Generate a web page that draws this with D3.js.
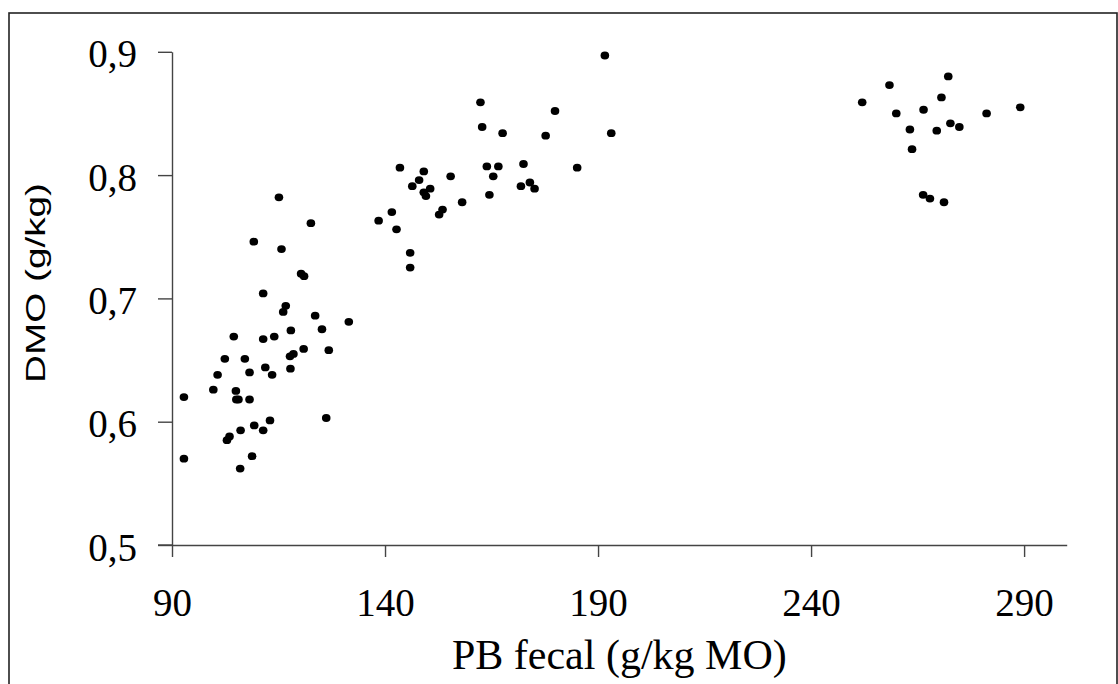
<!DOCTYPE html>
<html>
<head>
<meta charset="utf-8">
<script src="https://cdn.jsdelivr.net/npm/d3@7"></script>
<style>
  body { margin: 0; background: #fff; }
  svg { display: block; }
</style>
</head>
<body>
<div id="chart"></div>
<script>
// PB fecal (g/kg MO) vs DMO (g/kg)
var pbFecal = [
  115.1, 122.6, 109.2, 115.7, 120.3, 121.0, 111.4, 116.7, 116.1, 123.6,
  131.5, 117.9, 125.2, 143.5, 138.5, 141.6, 142.7,
  104.5, 111.4, 114.0, 120.9, 126.8, 117.7, 118.5, 102.4, 107.1, 111.9,
  117.8, 108.2, 113.5, 100.7, 99.7, 105.0, 105.1, 105.6, 108.2, 92.8,
  126.2, 113.0, 109.3, 106.1, 111.4, 103.5, 102.9, 108.8, 92.8, 106.0,
  162.4, 179.9, 162.8, 167.6, 177.7, 193.1, 163.9, 166.6, 172.5, 185.1,
  149.1, 148.0, 155.4, 165.4, 146.4, 150.6, 149.1, 149.6, 171.9, 174.0,
  175.1, 164.5, 158.1, 153.5, 152.7, 145.9, 145.9, 191.6,
  272.2, 258.4, 252.0, 260.0, 266.4, 270.6, 281.2, 289.1, 263.2, 269.5,
  272.7, 274.8, 263.7, 266.3, 267.9, 271.2
];
var dmo = [
  0.782, 0.761, 0.746, 0.740, 0.720, 0.718, 0.704, 0.694, 0.689, 0.686,
  0.681, 0.674, 0.675, 0.806, 0.763, 0.770, 0.756,
  0.669, 0.667, 0.669, 0.659, 0.658, 0.653, 0.655, 0.651, 0.651, 0.644,
  0.643, 0.640, 0.638, 0.638, 0.626, 0.625, 0.618, 0.618, 0.618, 0.620,
  0.603, 0.601, 0.597, 0.593, 0.593, 0.588, 0.585, 0.572, 0.570, 0.562,
  0.859, 0.852, 0.839, 0.834, 0.832, 0.834, 0.807, 0.807, 0.809, 0.806,
  0.803, 0.796, 0.799, 0.799, 0.791, 0.789, 0.786, 0.783, 0.791, 0.794,
  0.789, 0.784, 0.778, 0.772, 0.768, 0.737, 0.725, 0.897,
  0.880, 0.873, 0.859, 0.850, 0.853, 0.863, 0.850, 0.855, 0.837, 0.836,
  0.842, 0.839, 0.821, 0.784, 0.781, 0.778
];
var xTicks = [90, 140, 190, 240, 290];
var yTicks = [0.5, 0.6, 0.7, 0.8, 0.9];

(function() {
  var W = 1118, H = 684;
  var mLeft = 172, mRight = 1066.7, mTop = 51.8, mBottom = 545;

  var svg = d3.select('#chart').append('svg')
      .attr('width', W)
      .attr('height', H);

  svg.append('rect')
      .attr('x', 9).attr('y', 13)
      .attr('width', 1108).attr('height', 700)
      .attr('fill', 'none')
      .attr('stroke', '#222')
      .attr('stroke-width', 1.6);

  var x = d3.scaleLinear().domain([90, 300]).range([mLeft, mRight]);
  var y = d3.scaleLinear().domain([0.5, 0.9]).range([mBottom, mTop]);

  var comma = function(d) { return d3.format('.1f')(d).replace('.', ','); };

  var gx = svg.append('g')
      .attr('transform', 'translate(0,' + mBottom + ')')
      .call(d3.axisBottom(x).tickValues(xTicks).tickSize(12).tickSizeOuter(0));
  gx.selectAll('text')
      .attr('y', 71).attr('dy', 0);

  var gy = svg.append('g')
      .attr('transform', 'translate(' + mLeft + ',0)')
      .call(d3.axisLeft(y).tickValues(yTicks).tickFormat(comma).tickSize(14).tickSizeOuter(0).tickPadding(21));
  gy.selectAll('text').attr('dy', 15);

  svg.selectAll('.domain, .tick line')
      .attr('stroke', '#444')
      .attr('stroke-width', 1.4);
  svg.selectAll('.tick text')
      .attr('fill', '#000')
      .style('font-family', '"Liberation Serif", "Times New Roman", serif')
      .style('font-size', '39px');

  // extend the x axis line left under the 0,5 tick like the original
  svg.append('line')
      .attr('x1', mLeft - 14).attr('x2', mLeft)
      .attr('y1', mBottom).attr('y2', mBottom)
      .attr('stroke', '#444').attr('stroke-width', 1.4);

  var pts = d3.range(pbFecal.length).map(function(i) { return {x: pbFecal[i], y: dmo[i]}; });

  svg.append('g').selectAll('ellipse').data(pts)
    .enter().append('ellipse')
      .attr('cx', function(d) { return x(d.x); })
      .attr('cy', function(d) { return y(d.y); })
      .attr('rx', 4.3)
      .attr('ry', 3.9)
      .attr('fill', '#000');

  svg.append('text')
      .attr('x', (mLeft + mRight) / 2)
      .attr('y', 669)
      .attr('text-anchor', 'middle')
      .style('font-family', '"Liberation Serif", "Times New Roman", serif')
      .style('font-size', '42px')
      .text('PB fecal (g/kg MO)');

  svg.append('text')
      .attr('transform', 'translate(45,283) rotate(-90)')
      .attr('text-anchor', 'middle')
      .attr('textLength', 200)
      .attr('lengthAdjust', 'spacingAndGlyphs')
      .style('font-family', '"Liberation Sans", Arial, sans-serif')
      .style('font-size', '28px')
      .text('DMO (g/kg)');
})();
</script>
</body>
</html>
